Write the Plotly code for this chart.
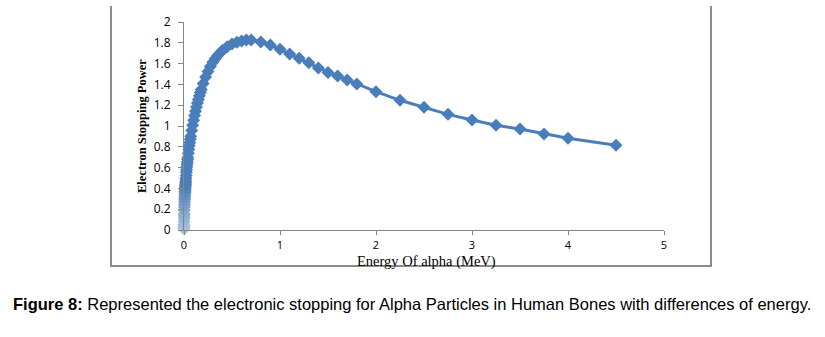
import plotly.graph_objects as go

# ---- data ----
energy_mev = [
    0.00001, 0.00002, 0.00005, 0.0001, 0.0002, 0.0005,
    0.001, 0.0015, 0.002, 0.003, 0.004, 0.005, 0.006, 0.007, 0.008, 0.009,
    0.01, 0.011, 0.012, 0.013, 0.014, 0.015, 0.016, 0.017, 0.018, 0.02,
    0.0225, 0.025, 0.0275, 0.03, 0.0325, 0.035, 0.0375, 0.04, 0.045, 0.05,
    0.055, 0.06, 0.065, 0.07, 0.08, 0.09, 0.1, 0.11, 0.12, 0.13, 0.14, 0.15,
    0.16, 0.17, 0.18, 0.2, 0.225, 0.25, 0.275, 0.3, 0.325, 0.35, 0.375, 0.4,
    0.45, 0.5, 0.55, 0.6, 0.65, 0.7, 0.8, 0.9, 1.0, 1.1, 1.2, 1.3, 1.4, 1.5,
    1.6, 1.7, 1.8, 2.0, 2.25, 2.5, 2.75, 3.0, 3.25, 3.5, 3.75, 4.0, 4.5,
]
stopping_power = [
    0.01, 0.015, 0.025, 0.035, 0.05, 0.08,
    0.11, 0.135, 0.155, 0.19, 0.22, 0.245, 0.27, 0.29, 0.31, 0.33,
    0.35, 0.365, 0.38, 0.395, 0.41, 0.425, 0.44, 0.455, 0.47, 0.495,
    0.525, 0.555, 0.582, 0.608, 0.632, 0.655, 0.677, 0.698, 0.738, 0.775,
    0.81, 0.842, 0.873, 0.902, 0.957, 1.008, 1.055, 1.1, 1.142, 1.182, 1.22, 1.256,
    1.29, 1.322, 1.352, 1.408, 1.47, 1.525, 1.572, 1.612, 1.647, 1.677, 1.703, 1.725,
    1.762, 1.788, 1.806, 1.818, 1.826, 1.828, 1.808, 1.779, 1.737, 1.692, 1.652, 1.607, 1.557, 1.515,
    1.481, 1.442, 1.404, 1.33, 1.247, 1.18, 1.112, 1.058, 1.007, 0.971, 0.923, 0.882, 0.814,
]
x_ticks = [0, 1, 2, 3, 4, 5]
y_ticks = [0, 0.2, 0.4, 0.6, 0.8, 1, 1.2, 1.4, 1.6, 1.8, 2]
x_title = "Energy Of alpha (MeV)"
y_title = "Electron Stopping Power"
caption_bold = "Figure 8:"
caption_text = " Represented the electronic stopping for Alpha Particles in Human Bones with differences of energy."

W, H = 825, 337
L, R, T, B = 184, 664, 22, 230  # plot area in pixels


def px_x(p):
    return (p - L) / (R - L)


def px_y(p):
    return (B - p) / (B - T)


base_rgb = (74, 126, 187)
blue = "rgb(%d,%d,%d)" % base_rgb


def faded(s):
    # markers near the origin look lighter in the reference
    t = max(0.0, (0.45 - s) / 0.45) * 0.55
    r, g, b = (round(c + (255 - c) * t) for c in base_rgb)
    return f"rgb({r},{g},{b})"


fig = go.Figure()
fig.add_trace(go.Scatter(
    x=energy_mev, y=stopping_power, mode="lines+markers",
    line=dict(color=blue, width=3),
    marker=dict(symbol="diamond", size=10, color=[faded(s) for s in stopping_power]),
    cliponaxis=False, showlegend=False,
))

axis_common = dict(
    showgrid=False, zeroline=False, showline=True, linecolor="#868686", linewidth=1,
    ticks="outside", tickcolor="#868686", tickwidth=1,
)
tick_font = "Open Sans, Liberation Sans, sans-serif"
fig.update_xaxes(range=[0, 5], tickvals=x_ticks, ticktext=[str(v) for v in x_ticks],
                 ticklen=4, ticklabelstandoff=1,
                 tickfont=dict(family=tick_font, size=11, color="#000"), **axis_common)
fig.update_yaxes(range=[0, 2], tickvals=y_ticks, ticktext=[f"{v:g}" for v in y_ticks],
                 ticklen=5, ticklabelstandoff=5,
                 tickfont=dict(family=tick_font, size=12, color="#000"), **axis_common)

frame = "#8c8c8c"
fig.add_shape(type="line", xref="paper", yref="paper", x0=px_x(111), x1=px_x(111),
              y0=px_y(6), y1=px_y(266), line=dict(color=frame, width=2))
fig.add_shape(type="line", xref="paper", yref="paper", x0=px_x(711), x1=px_x(711),
              y0=px_y(6), y1=px_y(266), line=dict(color=frame, width=2))
fig.add_shape(type="line", xref="paper", yref="paper", x0=px_x(110), x1=px_x(712),
              y0=px_y(266), y1=px_y(266), line=dict(color=frame, width=2))

fig.add_annotation(text=x_title, xref="paper", yref="paper", x=px_x(426), y=px_y(261),
                   xanchor="center", yanchor="middle", showarrow=False,
                   font=dict(family="Liberation Serif, Times New Roman, serif", size=14.5, color="#000"))
fig.add_annotation(text=f"<b>{y_title}</b>", xref="paper", yref="paper", x=px_x(142), y=px_y(126),
                   xanchor="center", yanchor="middle", showarrow=False, textangle=-90,
                   font=dict(family="Liberation Serif, Times New Roman, serif", size=12.5, color="#000"))
fig.add_annotation(text=f"<b>{caption_bold}</b>{caption_text}", xref="paper", yref="paper",
                   x=px_x(412), y=px_y(303.5), xanchor="center", yanchor="middle", showarrow=False,
                   font=dict(family="Liberation Sans, Arial, sans-serif", size=16.5, color="#000"))

fig.update_layout(
    width=W, height=H, margin=dict(l=L, r=W - R, t=T, b=H - B, pad=0),
    plot_bgcolor="white", paper_bgcolor="white",
)
fig.write_html("out.html")
